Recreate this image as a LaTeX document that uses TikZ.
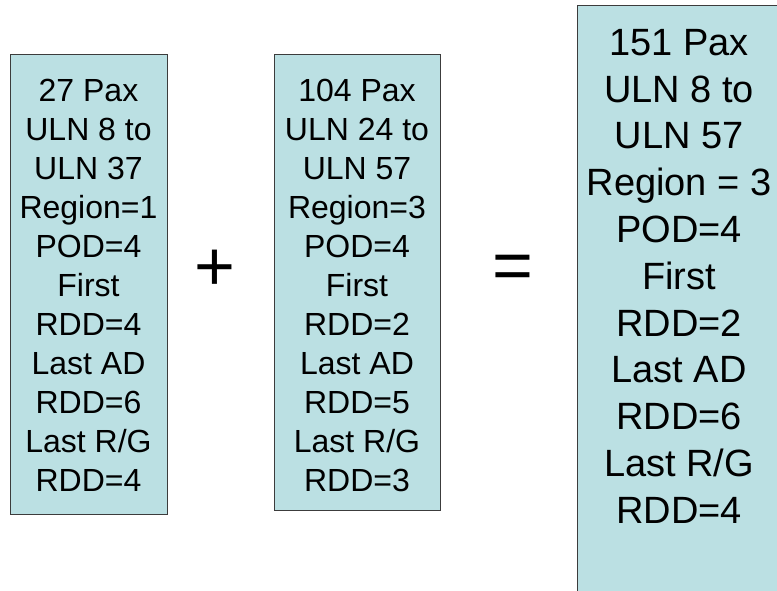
\documentclass[tikz,border=0pt]{standalone}
\usepackage{fontspec}
\setmainfont{Liberation Sans}
\definecolor{boxfill}{RGB}{187,224,227}
\definecolor{boxline}{RGB}{60,60,60}
\begin{document}
\begin{tikzpicture}[x=1pt,y=-1pt,
  box/.style={draw=boxline, fill=boxfill, line width=0.9pt, inner sep=0pt, outer sep=0pt, anchor=north west},
  smalltext/.style={anchor=north, inner sep=0pt, align=center, font=\fontsize{32}{39}\selectfont},
  bigtext/.style={anchor=north, inner sep=0pt, align=center, font=\fontsize{38}{46.8}\selectfont},
  optext/.style={inner sep=0pt, font=\fontsize{70}{80}\selectfont}]
\useasboundingbox (0,0) rectangle (777,590);
\clip (0,0) rectangle (777,590);
\fill[white] (0,0) rectangle (777,590);
% boxes
\node[box, minimum width=157pt, minimum height=460pt] (b1) at (10,54) {};
\node[box, minimum width=166pt, minimum height=456pt] (b2) at (274,54) {};
\node[box, minimum width=230pt, minimum height=620pt] (b3) at (577,5) {};
% texts
\node[smalltext] (t1) at (88.5,71) {\rule{0pt}{30pt}27 Pax\\ULN 8 to\\ULN 37\\Region=1\\POD=4\\First\\RDD=4\\Last AD\\RDD=6\\Last R/G\\RDD=4};
\node[smalltext] (t2) at (357,71) {\rule{0pt}{30pt}104 Pax\\ULN 24 to\\ULN 57\\Region=3\\POD=4\\First\\RDD=2\\Last AD\\RDD=5\\Last R/G\\RDD=3};
\node[bigtext] (t3) at (679,20) {\rule{0pt}{35pt}151 Pax\\ULN 8 to\\ULN 57\\Region = 3\\POD=4\\First\\RDD=2\\Last AD\\RDD=6\\Last R/G\\RDD=4};
% operators
\node[optext] (plus) at (215,270) {+};
\node[optext] (eq) at (513,272) {=};
\end{tikzpicture}
\end{document}
